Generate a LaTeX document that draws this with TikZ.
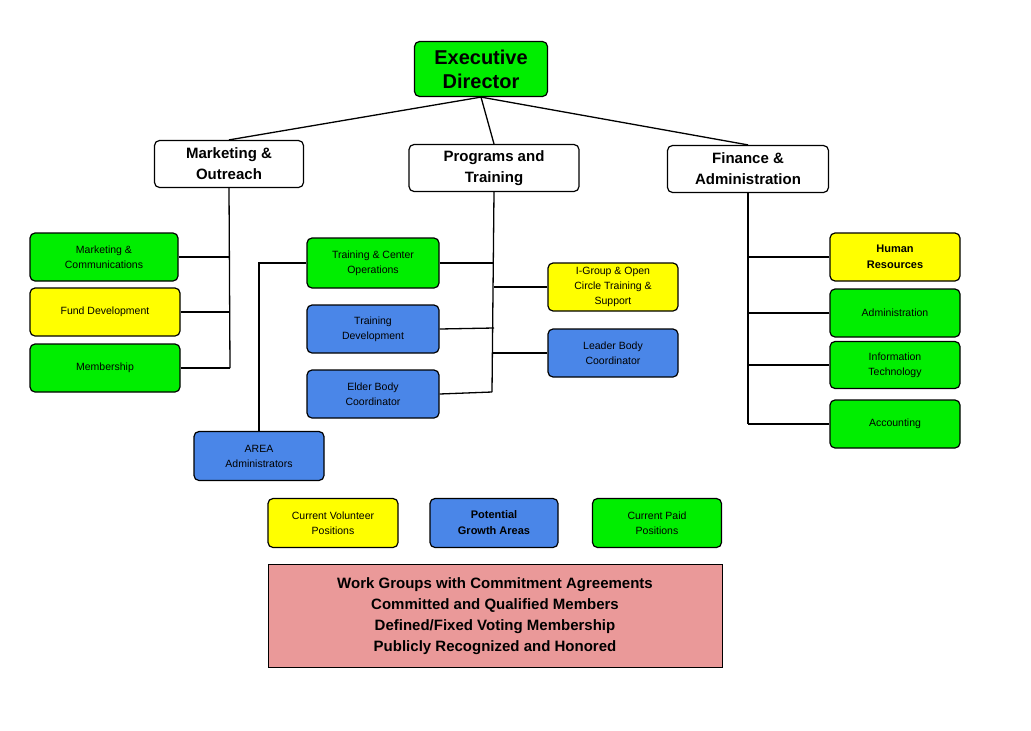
\documentclass[tikz,border=0pt]{standalone}
\usepackage{fontspec}
\setmainfont{Liberation Sans}
\usetikzlibrary{positioning}
\definecolor{paidgreen}{HTML}{00EE00}
\definecolor{volyellow}{HTML}{FFFF00}
\definecolor{growblue}{HTML}{4A86E8}
\definecolor{wgpink}{HTML}{EA9999}
\begin{document}
\begin{tikzpicture}[x=1pt,y=-1pt,
	box/.style={draw, line width=1.2pt, rounded corners=5pt, align=center,
		minimum width=130pt, minimum height=48pt, inner sep=2pt,
		font=\fontsize{10.5}{15}\selectfont},
	paid/.style={box, fill=paidgreen},
	vol/.style={box, fill=volyellow},
	growth/.style={box, fill=growblue},
	head/.style={box, fill=white, minimum height=47pt,
		font=\fontsize{15}{21}\selectfont\bfseries},
	link/.style={line width=1.3pt}]
	\useasboundingbox (0,0) rectangle (1031,731);
	% top
	\node[box, fill=paidgreen, minimum width=133pt, minimum height=55pt,
		font=\fontsize{20}{24}\selectfont\bfseries] (exec) at (481,69) {Executive\\Director};
	\node[head, minimum width=149pt] (mkt) at (229,164) {Marketing \&\\Outreach};
	\node[head, minimum width=170pt] (prog) at (494,168) {Programs and\\Training};
	\node[head, minimum width=161pt] (fin) at (748,169) {Finance \&\\Administration};
	\draw[link] (exec.south) -- (mkt.north);
	\draw[link] (exec.south) -- (prog.north);
	\draw[link] (exec.south) -- (fin.north);
	% marketing
	\node[paid, minimum width=148pt] (comm) at (104,257) {Marketing \&\\Communications};
	\node[vol, minimum width=150pt] (fund) at (105,312) {Fund Development};
	\node[paid, minimum width=150pt] (memb) at (105,368) {Membership};
	\coordinate (mkt1) at (230,257);
	\coordinate (mkt2) at (230,312);
	\coordinate (mkt3) at (230,368);
	\draw[link] (mkt.south) -- (mkt3);
	\foreach \b/\j in {comm/mkt1, fund/mkt2, memb/mkt3}
		\draw[link] (\b.east) -- (\j);
	% programs
	\node[paid, minimum width=132pt, minimum height=50pt] (ops) at (373,263) {Training \& Center\\Operations};
	\node[growth, minimum width=132pt] (tdev) at (373,329) {Training\\Development};
	\node[growth, minimum width=132pt] (elder) at (373,394) {Elder Body\\Coordinator};
	\node[vol] (igroup) at (613,287) {I-Group \& Open\\Circle Training \&\\Support};
	\node[growth] (leader) at (613,353) {Leader Body\\Coordinator};
	\node[growth, minimum height=49pt] (area) at (259,456) {AREA\\Administrators};
	\coordinate (prog1) at (494,263);
	\coordinate (prog2) at (494,287);
	\coordinate (prog3) at (494,328);
	\coordinate (prog4) at (493,353);
	\coordinate (prog5) at (492,392);
	\coordinate (areaup) at (259,263);
	\draw[link] (prog.south) -- (prog5);
	\foreach \b/\j in {ops/prog1, tdev/prog3, elder/prog5}
		\draw[link] (\b.east) -- (\j);
	\foreach \b/\j in {igroup/prog2, leader/prog4}
		\draw[link] (\b.west) -- (\j);
	\draw[link] (ops.west) -- (areaup) -- (area.north);
	% finance
	\node[vol, font=\fontsize{11}{16}\selectfont\bfseries] (hr) at (895,257) {Human\\Resources};
	\node[paid] (admin) at (895,313) {Administration};
	\node[paid, minimum height=47pt] (it) at (895,365) {Information\\Technology};
	\node[paid] (acct) at (895,424) {Accounting};
	\coordinate (fin1) at (748,257);
	\coordinate (fin2) at (748,313);
	\coordinate (fin3) at (748,365);
	\coordinate (fin4) at (748,424);
	\draw[link] (fin.south) -- (fin4);
	\foreach \b/\j in {hr/fin1, admin/fin2, it/fin3, acct/fin4}
		\draw[link] (\b.west) -- (\j);
	% legend
	\node[vol, minimum height=49pt] (legvol) at (333,523) {Current Volunteer\\Positions};
	\node[growth, minimum width=128pt, minimum height=49pt,
		font=\fontsize{11}{16}\selectfont\bfseries] (leggrow) at (494,523) {Potential\\Growth Areas};
	\node[paid, minimum width=129pt, minimum height=49pt] (legpaid) at (657,523) {Current Paid\\Positions};
	\node[draw, fill=wgpink, minimum width=454pt, minimum height=103pt, align=center,
		font=\fontsize{15}{21}\selectfont\bfseries] (work) at (495,616)
		{Work Groups with Commitment Agreements\\Committed and Qualified Members\\
		 Defined/Fixed Voting Membership\\Publicly Recognized and Honored};
\end{tikzpicture}
\end{document}
